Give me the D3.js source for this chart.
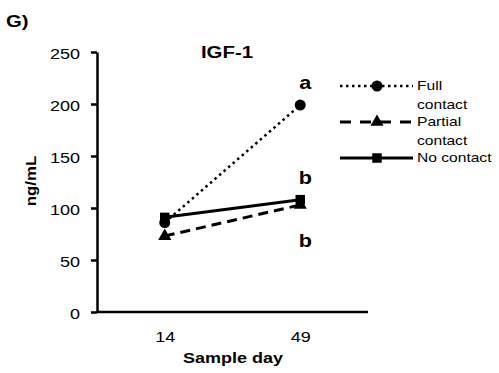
<!DOCTYPE html>
<html>
<head>
<meta charset="utf-8">
<script src="https://cdn.jsdelivr.net/npm/d3@7"></script>
<style>
  html, body { margin: 0; padding: 0; background: #fff; }
  svg { display: block; }
  text { font-family: "Liberation Sans", Arial, Helvetica, sans-serif; fill: #000; }
</style>
</head>
<body>
<svg id="chart" width="499" height="373"></svg>
<script>
// IGF-1 concentration by sample day and contact group
const days = ["14", "49"];
const fullContact = [86, 199];
const partialContact = [73, 103];
const noContact = [91, 108];
const yTicks = [0, 50, 100, 150, 200, 250];
const seriesNames = ["Full contact", "Partial contact", "No contact"];
const sigLetters = [
  { day: "49", value: 199, letter: "a" },
  { day: "49", value: 108, letter: "b" },
  { day: "49", value: 103, letter: "b", below: true }
];

const W = 499, H = 373;
const margin = { left: 97, right: 131, top: 52, bottom: 61 };
const SX = 1.2; // wide Helvetica-style lettering

const svg = d3.select("#chart");

const x = d3.scalePoint().domain(days).range([margin.left, W - margin.right]).padding(0.5);
const y = d3.scaleLinear().domain([0, 250]).range([H - margin.bottom, margin.top]);

// text helper with a horizontal stretch
function label(g, px, py, str, size, weight, anchor, rotate) {
  return g.append("text")
    .attr("transform", `translate(${px},${py})` + (rotate ? ` rotate(${rotate})` : "") + ` scale(${SX},1)`)
    .attr("text-anchor", anchor || "start")
    .style("font-size", size + "px")
    .style("font-weight", weight || "normal")
    .text(str);
}

// y axis
const yAxis = svg.append("g")
  .attr("transform", `translate(${margin.left},0)`)
  .call(d3.axisLeft(y).tickValues(yTicks).tickSize(6).tickSizeOuter(0));
yAxis.select(".domain").attr("stroke", "#000").attr("stroke-width", 2.5);
yAxis.selectAll(".tick line").attr("stroke", "#000").attr("stroke-width", 2.5);
yAxis.selectAll(".tick text")
  .attr("x", null).attr("dy", "0.4em")
  .attr("transform", `translate(-17,0) scale(${SX},1)`)
  .style("font-size", "15px")
  .attr("font-family", null);

// x axis
const xAxis = svg.append("g")
  .attr("transform", `translate(0,${H - margin.bottom})`)
  .call(d3.axisBottom(x).tickSize(0).tickSizeOuter(0));
xAxis.select(".domain")
  .attr("d", `M${margin.left},0H${W - margin.right}`)
  .attr("stroke", "#000").attr("stroke-width", 2.5);
xAxis.selectAll(".tick text")
  .attr("y", null).attr("dy", null)
  .attr("transform", `translate(0,30) scale(${SX},1)`)
  .style("font-size", "15px")
  .attr("font-family", null);

// series
const series = [
  { name: seriesNames[0], values: fullContact, dash: "2.5,3.5", width: 2.5, marker: "circle" },
  { name: seriesNames[1], values: partialContact, dash: "10,6", width: 3, marker: "triangle" },
  { name: seriesNames[2], values: noContact, dash: null, width: 3, marker: "square" }
];

const symbols = {
  circle: d3.symbol().type(d3.symbolCircle).size(95),
  triangle: d3.symbol().type(d3.symbolTriangle).size(75),
  square: d3.symbol().type(d3.symbolSquare).size(90)
};

const line = d3.line().x((d, i) => x(days[i])).y(d => y(d));

series.forEach(s => {
  svg.append("path")
    .datum(s.values)
    .attr("d", line)
    .attr("fill", "none")
    .attr("stroke", "#000")
    .attr("stroke-width", s.width)
    .attr("stroke-dasharray", s.dash);
  svg.selectAll(null)
    .data(s.values)
    .enter().append("path")
    .attr("d", symbols[s.marker])
    .attr("transform", (d, i) => `translate(${x(days[i])},${y(d)})`)
    .attr("fill", "#000");
});

// significance letters
sigLetters.forEach(l => {
  const py = l.below ? y(l.value) + 42 : y(l.value) - 16;
  label(svg, x(l.day) + 5, py, l.letter, 18, "bold", "middle");
});

// titles
label(svg, 227, 58, "IGF-1", 17, "bold", "middle");
label(svg, 6, 27, "G)", 17, "bold", "start");
label(svg, 233, 363, "Sample day", 15, "bold", "middle");
label(svg, 36, 181, "ng/mL", 14, "bold", "middle", -90);

// legend
const legend = svg.append("g");
const legendRows = [86, 122, 158];
series.forEach((s, i) => {
  const ly = legendRows[i];
  legend.append("line")
    .attr("x1", 340).attr("x2", 413).attr("y1", ly).attr("y2", ly)
    .attr("stroke", "#000")
    .attr("stroke-width", s.width)
    .attr("stroke-dasharray", s.dash === "10,6" ? "11,9" : s.dash);
  legend.append("path")
    .attr("d", symbols[s.marker])
    .attr("transform", `translate(377,${ly})`)
    .attr("fill", "#000");
  const words = s.name === "No contact" ? [s.name] : s.name.split(" ");
  words.forEach((w, j) => {
    label(legend, 417, ly + 4 + j * 18.5, w, 13, "normal", "start");
  });
});
</script>
</body>
</html>
